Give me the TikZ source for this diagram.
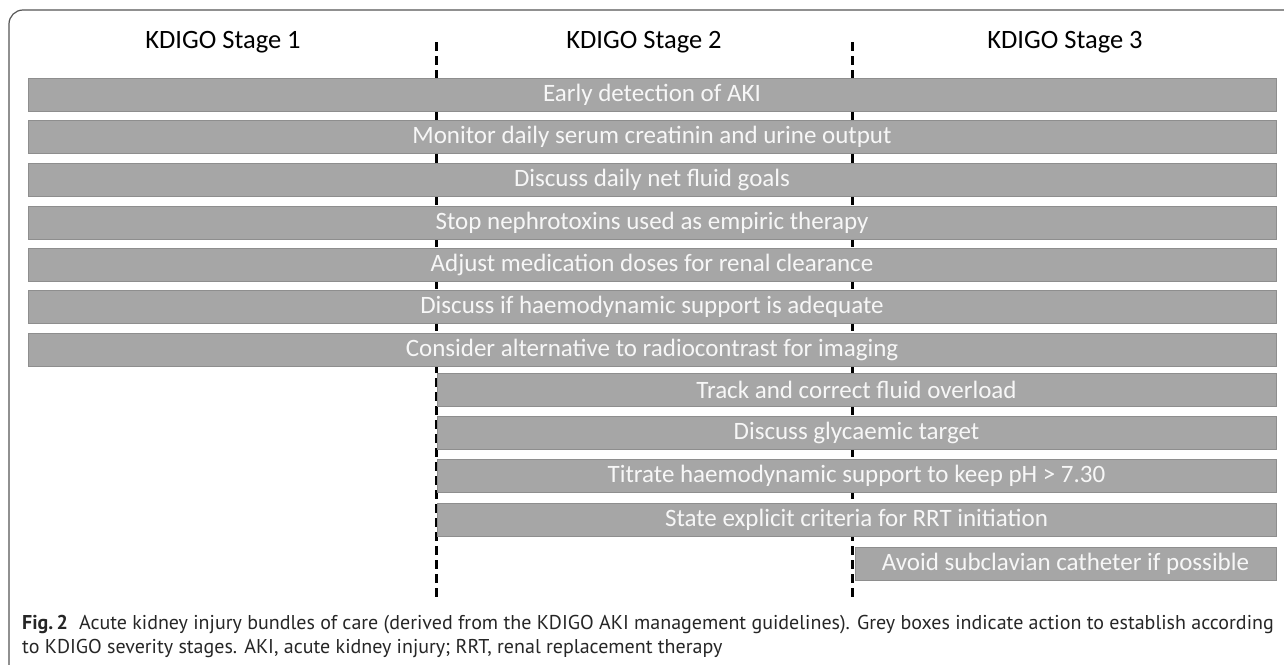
\documentclass[tikz,border=0pt]{standalone}
\usepackage{fontspec}
\setmainfont{Carlito}
\newfontfamily\capfont{PT Sans}
\begin{document}
\begin{tikzpicture}[x=1pt,y=-1pt,
  bar/.style={draw=barline, fill=barfill, line width=0.8pt, inner sep=0pt,
    minimum height=33pt, text=bartext, font=\fontsize{25}{27}\selectfont},
  head/.style={font=\fontsize{26.5}{28}\selectfont, text=black},
  divider/.style={draw=black, line width=3pt, dash pattern=on 9pt off 5pt},
  frame/.style={draw=framecol, line width=1.2pt, rounded corners=14pt},
  captext/.style={font=\capfont\fontsize{20}{23}\selectfont, text=black!85, anchor=west, inner sep=0pt}]
\definecolor{barfill}{HTML}{A6A6A6}
\definecolor{barline}{HTML}{8E8E8E}
\definecolor{bartext}{HTML}{F7F7F7}
\definecolor{framecol}{HTML}{555555}
\useasboundingbox (0,0) rectangle (1284,664);
\begin{scope}
\clip (0,0) rectangle (1284,664);
\draw[frame] (9,10) rectangle (1300,680);
\end{scope}
% headings
\node[head] (h1) at (223,42) {KDIGO Stage 1};
\node[head] (h2) at (644,42) {KDIGO Stage 2};
\node[head] (h3) at (1065,42) {KDIGO Stage 3};
% dividers
\coordinate (d1t) at (436,42);
\coordinate (d1b) at (436,598);
\coordinate (d2t) at (852,42);
\coordinate (d2b) at (852,598);
\draw[divider] (d1t) -- (d1b);
\draw[divider] (d2t) -- (d2b);
% full-width bars
\node[bar, minimum width=1248pt] (b1) at (652,95) {Early detection of AKI};
\node[bar, minimum width=1248pt] (b2) at (652,137) {Monitor daily serum creatinin and urine output};
\node[bar, minimum width=1248pt] (b3) at (652,179.5) {Discuss daily net fluid goals};
\node[bar, minimum width=1248pt] (b4) at (652,222.5) {Stop nephrotoxins used as empiric therapy};
\node[bar, minimum width=1248pt] (b5) at (652,264.5) {Adjust medication doses for renal clearance};
\node[bar, minimum width=1248pt] (b6) at (652,306.5) {Discuss if haemodynamic support is adequate};
\node[bar, minimum width=1248pt] (b7) at (652,349.5) {Consider alternative to radiocontrast for imaging};
% stage 2+ bars
\node[bar, minimum width=839pt] (b8) at (856.5,390) {Track and correct fluid overload};
\node[bar, minimum width=839pt] (b9) at (856.5,432.5) {Discuss glycaemic target};
\node[bar, minimum width=839pt] (b10) at (856.5,476) {Titrate haemodynamic support to keep pH > 7.30};
\node[bar, minimum width=839pt] (b11) at (856.5,520) {State explicit criteria for RRT initiation};
% stage 3 bar
\node[bar, minimum width=421pt] (b12) at (1065.5,564) {Avoid subclavian catheter if possible};
% caption
\node[captext] (cap1) at (22,625) {\textbf{Fig.\,2}\hspace{11pt}Acute kidney injury bundles of care (derived from the KDIGO AKI management guidelines). Grey boxes indicate action to establish according};
\node[captext] (cap2) at (22,648) {to KDIGO severity stages. AKI, acute kidney injury; RRT, renal replacement therapy};
\end{tikzpicture}
\end{document}
